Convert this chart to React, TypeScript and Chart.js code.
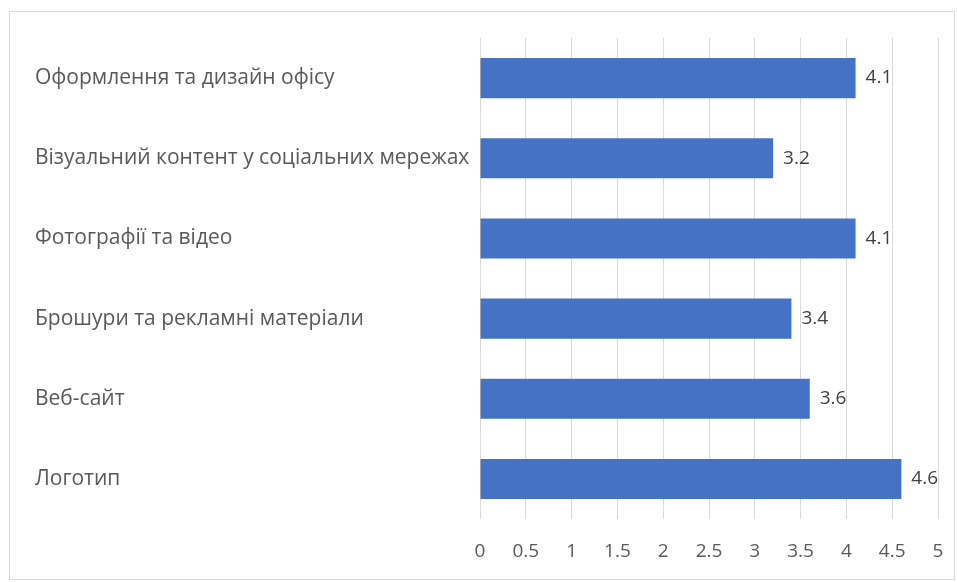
import React, { useEffect, useRef } from "react";
import { Chart, registerables } from "chart.js";

Chart.register(...registerables);

const categories = [
  "Оформлення та дизайн офісу",
  "Візуальний контент у соціальних мережах",
  "Фотографії та відео",
  "Брошури та рекламні матеріали",
  "Веб-сайт",
  "Логотип",
];
const values = [4.1, 3.2, 4.1, 3.4, 3.6, 4.6];
const xMin = 0;
const xMax = 5;
const xStep = 0.5;

const FONT = "'Open Sans', 'Noto Sans', sans-serif";

const valueLabels = {
  id: "valueLabels",
  afterDatasetsDraw(chart: any) {
    const ctx = chart.ctx;
    const meta = chart.getDatasetMeta(0);
    ctx.save();
    ctx.font = `19px ${FONT}`;
    ctx.fillStyle = "#404040";
    ctx.textAlign = "left";
    ctx.textBaseline = "middle";
    meta.data.forEach((bar: any, i: number) => {
      const v = chart.data.datasets[0].data[i];
      ctx.fillText(String(v), bar.x + 10, bar.y);
    });
    ctx.restore();
  },
};

export default function App() {
  const ref = useRef<HTMLCanvasElement | null>(null);
  useEffect(() => {
    if (!ref.current) return;
    const chart = new Chart(ref.current, {
      type: "bar",
      data: {
        labels: categories,
        datasets: [
          {
            data: values,
            backgroundColor: "#4472C4",
            barPercentage: 0.5,
            categoryPercentage: 1,
          },
        ],
      },
      options: {
        indexAxis: "y",
        animation: false,
        responsive: false,
        maintainAspectRatio: false,
        layout: { padding: { left: 25, top: 26, right: 16, bottom: 0 } },
        plugins: {
          legend: { display: false },
          tooltip: { enabled: false },
        },
        scales: {
          x: {
            min: xMin,
            max: xMax,
            ticks: {
              stepSize: xStep,
              padding: 21,
              color: "#595959",
              font: { family: FONT, size: 19 },
              callback: (v: any) => String(Number(v)),
            },
            grid: { color: "#d9d9d9", drawTicks: false },
            border: { display: false },
            afterFit: (s: any) => {
              s.height = 60;
              s.paddingLeft = 0;
              s.paddingRight = 0;
            },
          },
          y: {
            ticks: {
              crossAlign: "far",
              color: "#595959",
              font: { family: FONT, size: 21 },
            },
            grid: { display: false },
            border: { display: false },
            afterFit: (s: any) => {
              s.width = 445;
              s.paddingTop = 0;
              s.paddingBottom = 0;
            },
          },
        },
      },
      plugins: [valueLabels],
    });
    return () => chart.destroy();
  }, []);
  return (
    <div
      style={{
        position: "absolute",
        left: 9,
        top: 11,
        width: 944,
        height: 567,
        border: "1px solid #d9d9d9",
        background: "#fff",
      }}
    >
      <canvas ref={ref} width={944} height={567} style={{ display: "block" }} />
    </div>
  );
}
